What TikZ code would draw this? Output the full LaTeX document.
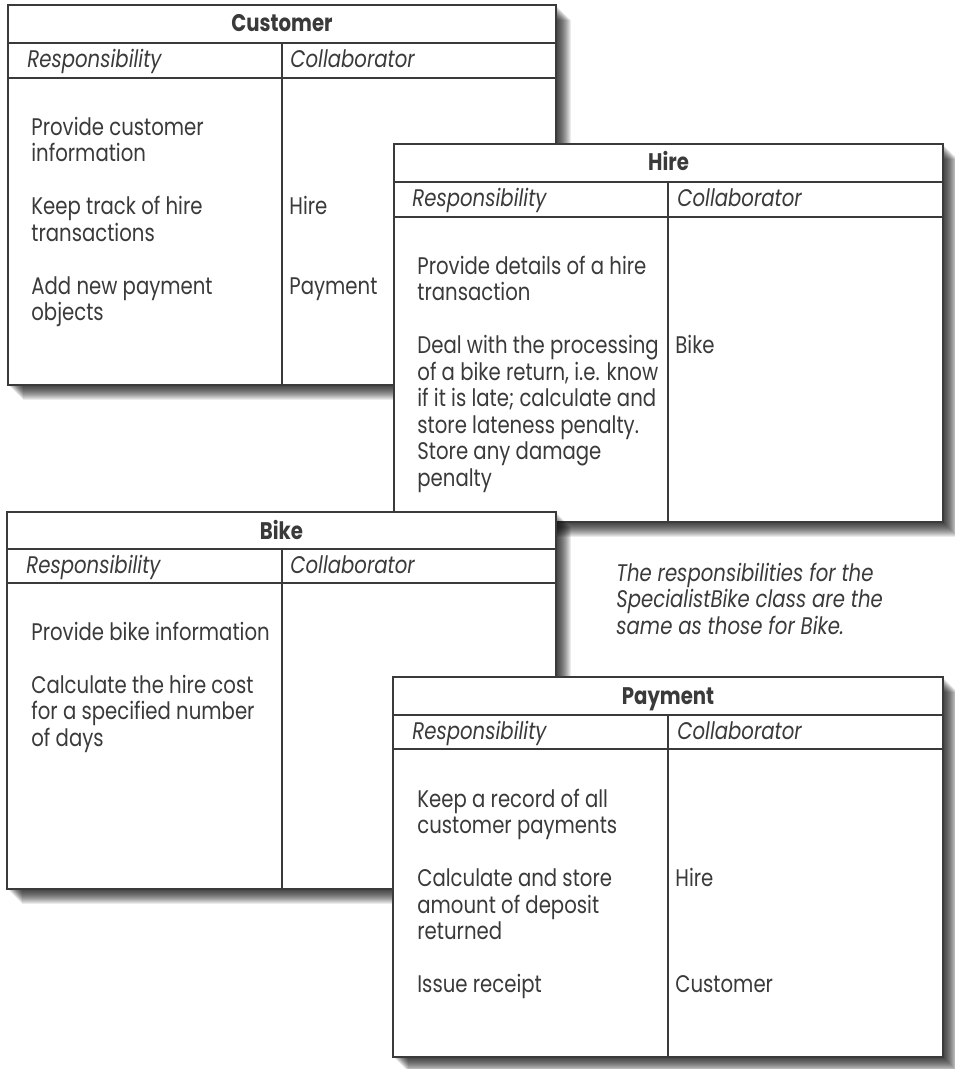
\documentclass[tikz,border=0pt]{standalone}
\usepackage{fontspec}
\setmainfont[FakeStretch=0.82]{Poppins}
\definecolor{ink}{HTML}{3A3A3A}
\tikzset{
    card/.style={draw=ink, line width=1pt, fill=white},
    rule/.style={draw=ink, line width=0.85pt},
    txt/.style={inner sep=0pt, anchor=north west, align=left, text=ink,
        font=\fontsize{12}{13.25}\selectfont},
    ttl/.style={inner sep=0pt, anchor=base, text=ink,
        font=\fontsize{12}{13.25}\selectfont\bfseries},
    hdr/.style={inner sep=0pt, anchor=base west, text=ink,
        font=\fontsize{12}{13.25}\selectfont\itshape},
}
\begin{document}
\begin{tikzpicture}[x=0.5pt, y=-0.5pt]
    \useasboundingbox (0,0) rectangle (954,1069);
    \fill[white] (0,0) rectangle (954,1069);

    \begin{scope}[shift={(8,5)}]
        % 阴影
        \foreach \d in {2,...,15}
            \fill[black, opacity=0.08] (\d,\d) rectangle (548+\d,380+\d);
        % 外框与分隔线
        \draw[card] (0,0) rectangle (548,380);
        \draw[rule] (0,38) -- (548,38);
        \draw[rule] (0,73) -- (548,73);
        \draw[rule] (274,38) -- (274,380);
        % 标题与表头
        \node[ttl] (cusT) at (274,27) {Customer};
        \node[hdr] (cusH1) at (19,63) {Responsibility};
        \node[hdr] (cusH2) at (282,63) {Collaborator};
        % 职责与协作者
        \node[txt] (cusR1) at (23,111.5) {\strut Provide customer\\information};
        \node[txt] (cusR2) at (23,191) {\strut Keep track of hire\\transactions};
        \node[txt] (cusR3) at (23,270.5) {\strut Add new payment\\objects};
        \node[txt] (cusC1) at (281,191) {\strut Hire};
        \node[txt] (cusC2) at (281,270.5) {\strut Payment};
    \end{scope}

    \begin{scope}[shift={(394,144)}]
        % 阴影
        \foreach \d in {2,...,15}
            \fill[black, opacity=0.08] (\d,\d) rectangle (549+\d,378+\d);
        % 外框与分隔线
        \draw[card] (0,0) rectangle (549,378);
        \draw[rule] (0,38) -- (549,38);
        \draw[rule] (0,73) -- (549,73);
        \draw[rule] (274,38) -- (274,378);
        % 标题与表头
        \node[ttl] (hirT) at (274.5,27) {Hire};
        \node[hdr] (hirH1) at (18,63) {Responsibility};
        \node[hdr] (hirH2) at (283,63) {Collaborator};
        % 职责与协作者
        \node[txt] (hirR1) at (23,111.5) {\strut Provide details of a hire\\transaction};
        \node[txt] (hirR2) at (23,191) {\strut Deal with the processing\\of a bike return, i.e. know\\if it is late; calculate and\\store lateness penalty.\\Store any damage\\penalty};
        \node[txt] (hirC1) at (281,191) {\strut Bike};
    \end{scope}

    \begin{scope}[shift={(7,512)}]
        % 阴影
        \foreach \d in {2,...,15}
            \fill[black, opacity=0.08] (\d,\d) rectangle (549+\d,377+\d);
        % 外框与分隔线
        \draw[card] (0,0) rectangle (549,377);
        \draw[rule] (0,37) -- (549,37);
        \draw[rule] (0,71) -- (549,71);
        \draw[rule] (275,37) -- (275,377);
        % 标题与表头
        \node[ttl] (bikT) at (274.5,27) {Bike};
        \node[hdr] (bikH1) at (19,61) {Responsibility};
        \node[hdr] (bikH2) at (283,61) {Collaborator};
        % 职责
        \node[txt] (bikR1) at (24,109.5) {\strut Provide bike information};
        \node[txt] (bikR2) at (24,162.5) {\strut Calculate the hire cost\\for a specified number\\of days};
    \end{scope}

    % 说明文字
    \node[txt, font=\fontsize{12}{13.25}\selectfont\itshape] (note) at (616,562.5)
        {\strut The responsibilities for the\\SpecialistBike class are the\\same as those for Bike.};

    \begin{scope}[shift={(393,677)}]
        % 阴影
        \foreach \d in {2,...,15}
            \fill[black, opacity=0.08] (\d,\d) rectangle (550+\d,380+\d);
        % 外框与分隔线
        \draw[card] (0,0) rectangle (550,380);
        \draw[rule] (0,38) -- (550,38);
        \draw[rule] (0,72) -- (550,72);
        \draw[rule] (275,38) -- (275,380);
        % 标题与表头
        \node[ttl] (payT) at (275,27) {Payment};
        \node[hdr] (payH1) at (19,62) {Responsibility};
        \node[hdr] (payH2) at (284,62) {Collaborator};
        % 职责与协作者
        \node[txt] (payR1) at (24,111.5) {\strut Keep a record of all\\customer payments};
        \node[txt] (payR2) at (24,191) {\strut Calculate and store\\amount of deposit\\returned};
        \node[txt] (payR3) at (24,297) {\strut Issue receipt};
        \node[txt] (payC1) at (282,191) {\strut Hire};
        \node[txt] (payC2) at (282,297) {\strut Customer};
    \end{scope}
\end{tikzpicture}
\end{document}
